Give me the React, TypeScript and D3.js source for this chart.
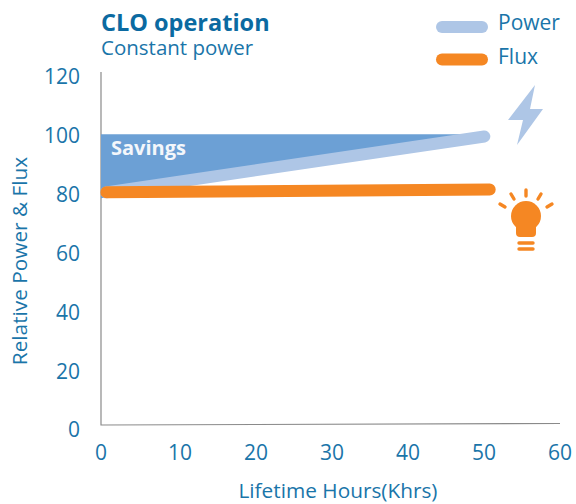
import * as d3 from 'd3';

const xTicks = [0, 10, 20, 30, 40, 50, 60];
const yTicks = [0, 20, 40, 60, 80, 100, 120];
const powerLine: [number, number][] = [[0.7, 80], [50, 99.2]];
const fluxLine: [number, number][] = [[0.7, 80], [50.7, 81]];
const savingsX = [0, 48];
const savingsTop = [100, 100];
const savingsBottom = [78, 98.4];
const legendItems = ['Power', 'Flux'];

const BLUE = '#1a75a9';
const TITLE = '#0b6aa1';
const POWER = '#aec6e6';
const SAVINGS = '#6ca0d5';
const FLUX = '#f58723';
const FONT = '"Open Sans", sans-serif';

const width = 576;
const height = 504;

export default function App() {
  const x = d3.scaleLinear().domain([0, 60]).range([101, 561]);
  const y = d3.scaleLinear().domain([0, 120]).range([425, 76]);
  // tick labels sit a little off the plot scale in the source
  const yLabel = d3.scaleLinear().domain([0, 120]).range([430, 77]);
  const xLabel = d3.scaleLinear().domain([0, 10, 60]).range([101, 180, 560]);

  const line = d3.line<[number, number]>().x(d => x(d[0])).y(d => y(d[1]));
  const savings = d3.area<number>()
    .x(d => x(d))
    .y0((_d, i) => y(savingsBottom[i]))
    .y1((_d, i) => y(savingsTop[i]));

  return (
    <svg width={width} height={height} style={{ position: 'absolute', left: 0, top: 0 }} fontFamily={FONT}>
      {/* Axes */}
      <path d={`M${x(0)},72V${y(0)}L560,423.5`} fill="none" stroke="#8a8a8a" strokeWidth={1.2} />

      {/* Savings wedge + lines */}
      <path d={savings(savingsX) || ''} fill={SAVINGS} />
      <path d={line(powerLine) || ''} fill="none" stroke={POWER} strokeWidth={12} strokeLinecap="round" />
      <path d={line(fluxLine) || ''} fill="none" stroke={FLUX} strokeWidth={12} strokeLinecap="round" />
      <text x={111} y={155} fill="#f4f7fb" fontSize={20} fontWeight={700}>Savings</text>

      {/* Tick labels */}
      {yTicks.map(t => (
        <text key={t} x={80} y={yLabel(t)} dy="0.35em" textAnchor="end" fill={BLUE} fontSize={21}>{t}</text>
      ))}
      {xTicks.map(t => (
        <text key={t} x={xLabel(t)} y={453} dy="0.35em" textAnchor="middle" fill={BLUE} fontSize={21}>{t}</text>
      ))}

      {/* Axis titles */}
      <text transform="translate(27,261) rotate(-90)" textAnchor="middle" fill={BLUE} fontSize={20.8}>Relative Power &amp; Flux</text>
      <text x={338} y={498} textAnchor="middle" fill={BLUE} fontSize={20.8}>Lifetime Hours(Khrs)</text>

      {/* Title */}
      <text x={101} y={31} fill={TITLE} fontSize={23.5} fontWeight={700}>CLO operation</text>
      <text x={101} y={55} fill={BLUE} fontSize={20.5}>Constant power</text>

      {/* Legend */}
      {legendItems.map((name, i) => (
        <g key={name}>
          <line x1={442} x2={482} y1={27 + i * 32.5} y2={27 + i * 32.5} stroke={i === 0 ? POWER : FLUX} strokeWidth={12} strokeLinecap="round" />
          <text x={498} y={23 + i * 34} dy="0.35em" fill={BLUE} fontSize={21}>{name}</text>
        </g>
      ))}

      {/* Bolt icon */}
      <polygon points="535,85 530,109 543,109 517,145 523,120 508,120" fill={POWER} />

      {/* Bulb icon */}
      <g fill={FLUX} stroke="none">
        <circle cx={526} cy={216} r={15} />
        <path d="M516,224H536V233Q536,237 532,237H520Q516,237 516,233Z" />
      </g>
      <g stroke={FLUX} strokeWidth={3.4} strokeLinecap="round">
        <line x1={526} y1={190} x2={526} y2={196} />
        <line x1={511} y1={194} x2={514} y2={199} />
        <line x1={541} y1={194} x2={538} y2={199} />
        <line x1={500} y1={204} x2={505} y2={207} />
        <line x1={552} y1={204} x2={547} y2={207} />
        <line x1={519} y1={243} x2={533} y2={243} />
        <line x1={519} y1={249} x2={533} y2={249} />
      </g>
    </svg>
  );
}
